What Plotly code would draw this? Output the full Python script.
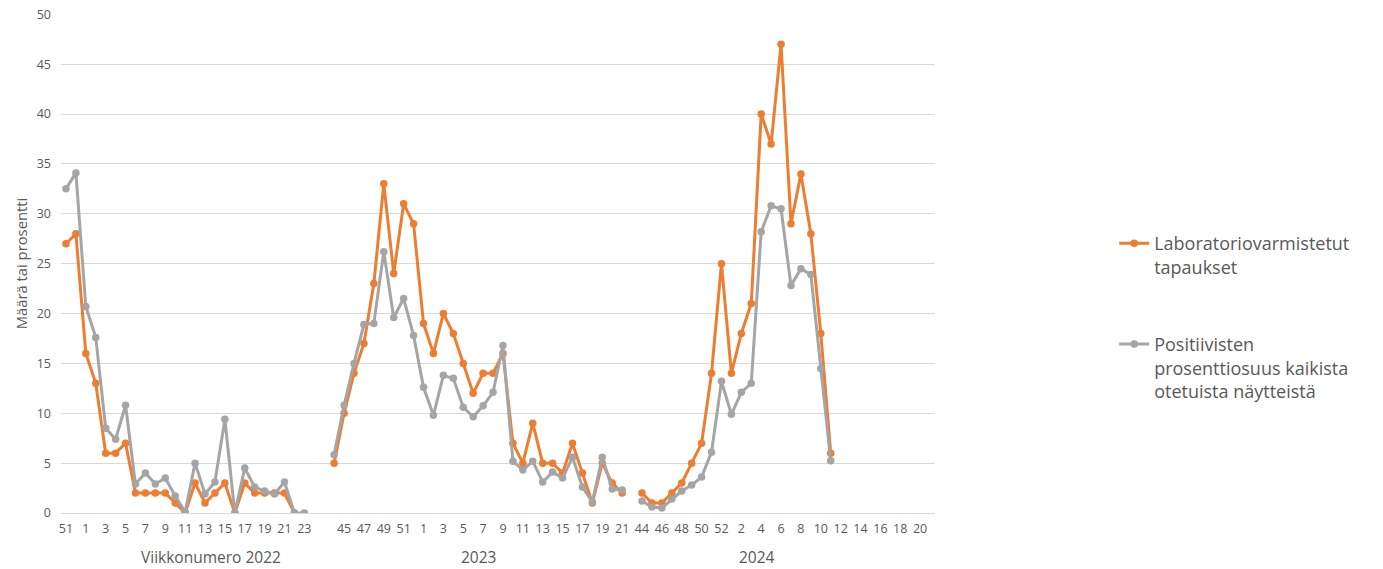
import plotly.graph_objects as go

# ---- Data ----
weeks_2022 = [51, 52] + list(range(1, 24))
cases_2022 = [27, 28, 16, 13, 6, 6, 7, 2, 2, 2, 2, 1, 0, 3, 1, 2, 3, 0, 3, 2, 2, 2, 2, 0, None]
pos_2022 = [32.5, 34.1, 20.7, 17.6, 8.5, 7.4, 10.8, 2.9, 4.0, 2.9, 3.5, 1.7, 0.1, 5.0, 1.9, 3.1, 9.4, 0, 4.5, 2.6, 2.2, 1.9, 3.1, 0, 0]

weeks_2023 = list(range(44, 53)) + list(range(1, 22))
cases_2023 = [5, 10, 14, 17, 23, 33, 24, 31, 29, 19, 16, 20, 18, 15, 12, 14, 14, 16, 7, 5, 9, 5, 5, 4, 7, 4, 1, 5, 3, 2]
pos_2023 = [5.85, 10.8, 15.0, 18.9, 19.0, 26.2, 19.6, 21.5, 17.8, 12.6, 9.8, 13.8, 13.5, 10.6, 9.65, 10.75, 12.1, 16.8,
            5.2, 4.3, 5.2, 3.1, 4.1, 3.5, 5.6, 2.6, 1.1, 5.6, 2.4, 2.3]

weeks_2024 = list(range(44, 53)) + list(range(1, 22))
cases_2024 = [2, 1, 1, 2, 3, 5, 7, 14, 25, 14, 18, 21, 40, 37, 47, 29, 34, 28, 18, 6]
pos_2024 = [1.2, 0.6, 0.5, 1.4, 2.2, 2.8, 3.6, 6.1, 13.2, 9.9, 12.1, 13.0, 28.2, 30.8, 30.5, 22.8, 24.5, 23.9, 14.5, 5.25]

season_labels = ["Viikkonumero 2022", "2023", "2024"]
gaps_after = [2, 1, 0]  # blank categories between seasons

name_cases = "Laboratoriovarmistetut<br>tapaukset"
name_pos = "Positiivisten<br>prosenttiosuus kaikista<br>otetuista näytteistä"

ORANGE = "#ED7D31"
GRAY = "#A5A5A5"
TXT = "#595959"

# ---- Build category positions ----
labels = []
cases = []
pos = []
for weeks, c, p, gap in [(weeks_2022, cases_2022, pos_2022, gaps_after[0]),
                         (weeks_2023, cases_2023, pos_2023, gaps_after[1]),
                         (weeks_2024, cases_2024, pos_2024, gaps_after[2])]:
    labels += [str(w) for w in weeks]
    cases += c + [None] * (len(weeks) - len(c))
    pos += p + [None] * (len(weeks) - len(p))
    labels += [""] * gap
    cases += [None] * gap
    pos += [None] * gap

x = list(range(len(labels)))

fig = go.Figure()
fig.add_trace(go.Scatter(x=x, y=cases, mode="lines+markers", name=name_cases,
                         line=dict(color=ORANGE, width=3), marker=dict(color=ORANGE, size=7.5),
                         connectgaps=False, legendgroup="a"))
fig.add_trace(go.Scatter(x=x, y=pos, mode="lines+markers", name=name_pos,
                         line=dict(color=GRAY, width=3), marker=dict(color=GRAY, size=7.5),
                         connectgaps=False, legendgroup="b"))

tickvals = x[::2]
ticktext = [labels[i] for i in tickvals]

fig.update_layout(
    width=1383, height=569,
    margin=dict(l=61, r=448, t=14, b=56),
    paper_bgcolor="white", plot_bgcolor="white",
    font=dict(family="Open Sans, sans-serif", color=TXT),
    showlegend=True,
    legend=dict(x=1.205, y=0.577, xanchor="left", yanchor="top",
                font=dict(size=18, color=TXT), valign="top",
                tracegroupgap=51, traceorder="grouped", itemwidth=30),
    xaxis=dict(range=[-0.5, len(labels) - 0.5], tickmode="array", tickvals=tickvals, ticktext=ticktext,
               tickangle=0, showgrid=False, zeroline=False, showline=True, linecolor="#D9D9D9",
               linewidth=1, ticks="", tickfont=dict(size=12.5, color=TXT), ticklabelstandoff=4),
    yaxis=dict(range=[0, 50.03], tickmode="array", tickvals=list(range(0, 51, 5)),
               showgrid=True, gridcolor="#D9D9D9", gridwidth=1, ticklabeloverflow="allow",
               zeroline=False, ticks="", tickfont=dict(size=12.5, color=TXT), ticklabelstandoff=9,
               title=dict(text="Määrä tai prosentti", font=dict(size=14.8, color=TXT), standoff=5),
               automargin=False),
)

# season group labels (pixel-derived centers in category units)
group_x = [14.6, 41.5, 69.6]
for lab, gx in zip(season_labels, group_x):
    fig.add_annotation(x=gx, y=-0.088, xref="x", yref="paper", text=lab, showarrow=False,
                       font=dict(size=15.5, color=TXT), xanchor="center", yanchor="middle")

fig.write_html("out.html", config={"displayModeBar": False},
               post_script="document.body.style.margin='0';")
